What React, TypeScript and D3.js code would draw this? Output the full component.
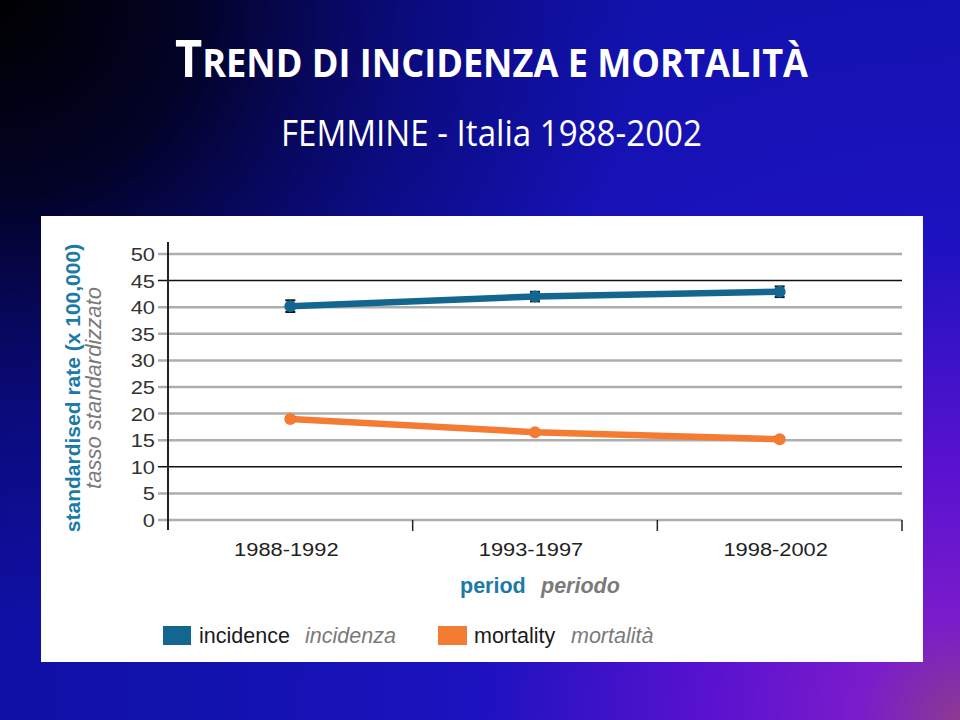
import React from "react";
import * as d3 from "d3";

const categories = ["1988-1992", "1993-1997", "1998-2002"];
const incidence = [40.2, 42.0, 42.9];
const incidenceErr = [1.1, 0.9, 1.0];
const mortality = [19.0, 16.5, 15.2];
const mortalityErr = [0.4, 0.3, 0.4];
const yTicks = [0, 5, 10, 15, 20, 25, 30, 35, 40, 45, 50];
const darkGridTicks = [10, 45];

const BLUE = "#12668f";
const ORANGE = "#f37b32";
const SANS = "'Liberation Sans', Arial, sans-serif";

export default function App() {
  const x = d3.scaleBand<string>().domain(categories).range([168, 902]);
  const y = d3.scaleLinear().domain([0, 50]).range([520, 254]);
  const cx = (c: string) => (x(c) as number) + x.bandwidth() / 2;

  const line = d3
    .line<number>()
    .x((_, i) => cx(categories[i]))
    .y((d) => y(d));

  const series = [
    { values: incidence, err: incidenceErr, color: BLUE },
    { values: mortality, err: mortalityErr, color: ORANGE },
  ];

  const boundaries = [...categories.slice(1).map((c) => x(c) as number), 902];

  return (
    <svg
      width={960}
      height={720}
      style={{ position: "absolute", left: 0, top: 0, display: "block" }}
    >
      <defs>
        <radialGradient id="bgPurple" gradientUnits="userSpaceOnUse" cx={960} cy={720} r={1250}>
          <stop offset="0" stopColor="#8c3a92" />
          <stop offset="0.08" stopColor="#7a1ccb" />
          <stop offset="0.2" stopColor="#5a12cf" />
          <stop offset="0.38" stopColor="#1e12c0" />
          <stop offset="0.6" stopColor="#1212ae" />
          <stop offset="1" stopColor="#0e0e9c" />
        </radialGradient>
        <radialGradient id="bgDark" gradientUnits="userSpaceOnUse" cx={0} cy={0} r={640}>
          <stop offset="0" stopColor="#000000" stopOpacity={1} />
          <stop offset="0.3" stopColor="#000010" stopOpacity={0.85} />
          <stop offset="0.65" stopColor="#000030" stopOpacity={0.35} />
          <stop offset="1" stopColor="#000040" stopOpacity={0} />
        </radialGradient>
      </defs>
      <rect x={0} y={0} width={960} height={720} fill="url(#bgPurple)" />
      <rect x={0} y={0} width={960} height={720} fill="url(#bgDark)" />

      {/* Title */}
      <text
        x={175}
        y={77}
        fill="#ffffff"
        fontFamily="'Open Sans', sans-serif"
        fontWeight={700}
        textLength={633}
        lengthAdjust="spacingAndGlyphs"
      >
        <tspan fontSize={52}>T</tspan>
        <tspan fontSize={40}>REND DI INCIDENZA E MORTALITÀ</tspan>
      </text>
      <text
        x={281}
        y={146}
        fill="#ffffff"
        fontFamily="'Open Sans', sans-serif"
        fontSize={36}
        textLength={421}
        lengthAdjust="spacingAndGlyphs"
      >
        FEMMINE - Italia 1988-2002
      </text>

      {/* Chart panel */}
      <rect x={41} y={216} width={882} height={446} fill="#ffffff" />

      {/* Gridlines */}
      {yTicks.map((t) => {
        const dark = darkGridTicks.includes(t);
        return (
          <line
            key={`g${t}`}
            x1={158}
            x2={902}
            y1={y(t)}
            y2={y(t)}
            stroke={dark ? "#111111" : "#adadad"}
            strokeWidth={dark ? 1.5 : 2.5}
          />
        );
      })}

      {/* Y axis */}
      <line x1={168} x2={168} y1={242} y2={530} stroke="#222" strokeWidth={2} />
      {yTicks.map((t) => (
        <text
          key={`yt${t}`}
          transform={`translate(155,${y(t) + 7}) scale(1.15,1)`}
          textAnchor="end"
          fontFamily={SANS}
          fontSize={19}
          fill="#333"
        >
          {t}
        </text>
      ))}

      {/* X axis ticks */}
      {boundaries.map((b, i) => (
        <line key={`xt${i}`} x1={b} x2={b} y1={520} y2={531} stroke="#222" strokeWidth={1.5} />
      ))}
      {categories.map((c) => (
        <text
          key={`xl${c}`}
          transform={`translate(${cx(c) - 4},${556}) scale(1.15,1)`}
          textAnchor="middle"
          fontFamily={SANS}
          fontSize={19}
          fill="#222"
        >
          {c}
        </text>
      ))}

      {/* Axis titles */}
      <text
        transform="translate(80,388) rotate(-90)"
        textAnchor="middle"
        fontFamily={SANS}
        fontWeight={700}
        fontSize={21}
        fill="#1c7aa6"
      >
        standardised rate (x 100,000)
      </text>
      <text
        transform="translate(101,388) rotate(-90)"
        textAnchor="middle"
        fontFamily={SANS}
        fontStyle="italic"
        fontSize={22}
        fill="#7a7a7a"
      >
        tasso standardizzato
      </text>
      <text x={460} y={593} fontFamily={SANS} fontWeight={700} fontSize={21.5} fill="#1c7aa6">
        period
      </text>
      <text
        x={541}
        y={593}
        fontFamily={SANS}
        fontWeight={700}
        fontStyle="italic"
        fontSize={21.5}
        fill="#7a7a7a"
      >
        periodo
      </text>

      {/* Series */}
      {series.map((s, si) => (
        <g key={`s${si}`}>
          <path d={line(s.values) || ""} fill="none" stroke={s.color} strokeWidth={6.5} strokeLinejoin="round" />
          {s.values.map((v, i) => {
            const px = cx(categories[i]);
            const lo = y(v - s.err[i]);
            const hi = y(v + s.err[i]);
            return (
              <g key={`p${si}-${i}`}>
                <line x1={px} x2={px} y1={lo} y2={hi} stroke="#111" strokeWidth={1.5} />
                <line x1={px - 5} x2={px + 5} y1={lo} y2={lo} stroke="#111" strokeWidth={2} />
                <line x1={px - 5} x2={px + 5} y1={hi} y2={hi} stroke="#111" strokeWidth={2} />
                <circle cx={px} cy={y(v)} r={6} fill={s.color} />
              </g>
            );
          })}
        </g>
      ))}

      {/* Legend */}
      <rect x={163} y={626} width={28} height={19} fill={BLUE} />
      <text x={199} y={643} fontFamily={SANS} fontSize={21.5} fill="#1a1a1a">
        incidence
      </text>
      <text x={305} y={643} fontFamily={SANS} fontStyle="italic" fontSize={21.5} fill="#7a7a7a">
        incidenza
      </text>
      <rect x={438} y={626} width={29} height={19} fill={ORANGE} />
      <text x={474} y={643} fontFamily={SANS} fontSize={21.5} fill="#1a1a1a">
        mortality
      </text>
      <text x={571} y={643} fontFamily={SANS} fontStyle="italic" fontSize={21.5} fill="#7a7a7a">
        mortalità
      </text>
    </svg>
  );
}
